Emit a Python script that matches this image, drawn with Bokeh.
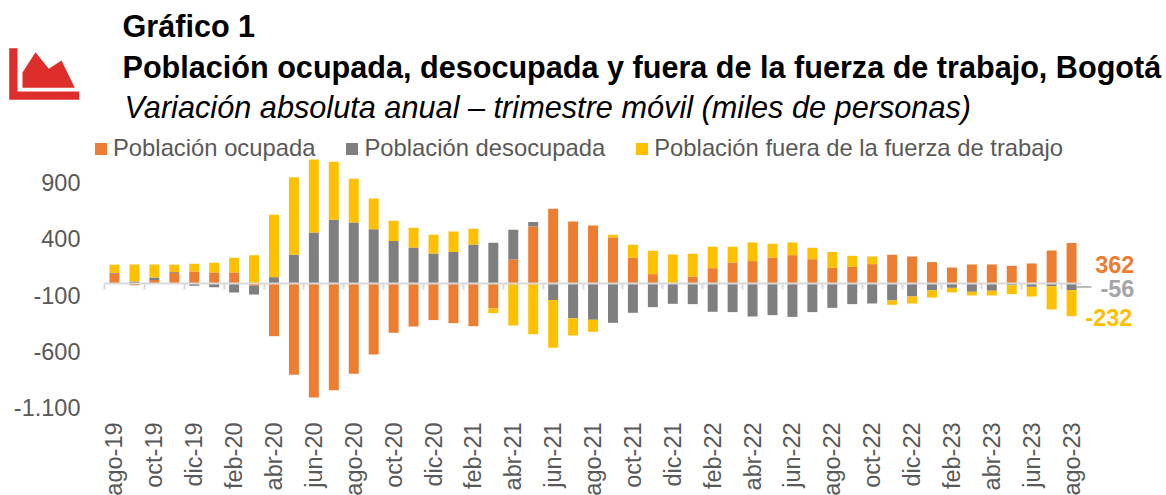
from bokeh.plotting import figure
from bokeh.embed import file_html
from bokeh.resources import INLINE
from bokeh.models import (Range1d, FixedTicker, LinearAxis, Label, Legend, LegendItem, PolyAnnotation)
import numpy as np

months = ["ago-19","sep-19","oct-19","nov-19","dic-19","ene-20","feb-20","mar-20","abr-20","may-20","jun-20","jul-20",
          "ago-20","sep-20","oct-20","nov-20","dic-20","ene-21","feb-21","mar-21","abr-21","may-21","jun-21","jul-21",
          "ago-21","sep-21","oct-21","nov-21","dic-21","ene-22","feb-22","mar-22","abr-22","may-22","jun-22","jul-22",
          "ago-22","sep-22","oct-22","nov-22","dic-22","ene-23","feb-23","mar-23","abr-23","may-23","jun-23","jul-23","ago-23"]
ocupada = [89,-12,33,98,110,101,101,-18,-466,-810,-1011,-946,-801,-629,-436,-380,-323,-350,-377,-219,217,510,667,555,519,412,231,86,6,65,139,190,202,234,255,219,142,151,175,258,243,193,145,172,172,160,181,297,362]
desocupada = [6,20,24,6,-18,-30,-77,-78,59,258,457,569,546,486,380,323,270,282,350,365,263,39,-145,-308,-320,-347,-258,-208,-178,-181,-249,-252,-291,-279,-294,-252,-214,-181,-175,-148,-113,-59,-36,-71,-62,-12,-27,-21,-56]
fuera = [74,152,115,65,68,86,130,255,555,691,649,516,388,273,180,175,166,184,139,-42,-371,-448,-424,-152,-107,24,116,208,255,202,190,139,166,122,113,101,140,98,68,-39,-62,-63,-41,-33,-42,-80,-86,-207,-232]
yticks = [900,400,-100,-600,-1100]
ylabels = {900:"900",400:"400",-100:"-100",-600:"-600",-1100:"-1.100"}
names = ["Población ocupada","Población desocupada","Población fuera de la fuerza de trabajo"]
colors = ["#ED7D31","#7F7F7F","#FFC000"]

FONT = "Liberation Sans"
W, H = 1166, 495
STEP = 19.94          # pixels per month
PPU = 0.1124          # pixels per thousand persons
X0, Y0 = 104, 283.3   # left end of the axis, zero line
p = figure(width=W, height=H, output_backend="svg", toolbar_location=None,
           x_range=Range1d(-X0 / STEP - 0.5, (W - X0) / STEP - 0.5),
           y_range=Range1d((Y0 - H) / PPU, Y0 / PPU),
           min_border_left=0, min_border_right=0, min_border_top=0, min_border_bottom=0)
p.outline_line_color = None
p.grid.visible = False

x = np.arange(len(months))
pos = np.zeros(len(months)); neg = np.zeros(len(months))
rs = []
for vals, c in zip([ocupada, desocupada, fuera], colors):
    v = np.array(vals, dtype=float)
    bottom = np.where(v >= 0, pos, neg)
    top = bottom + v
    rs.append(p.vbar(x=x, bottom=bottom, top=top, width=0.5, fill_color=c, line_color=None))
    pos = pos + np.where(v >= 0, v, 0); neg = neg + np.where(v < 0, v, 0)

# x axis labels
ax = p.xaxis[0]
ax.fixed_location = -1100
ax.ticker = FixedTicker(ticks=list(range(0, len(months), 2)))
ax.major_label_overrides = {i: months[i] for i in range(0, len(months), 2)}
ax.major_label_orientation = np.pi/2
ax.major_label_text_font = FONT
ax.major_label_text_font_size = "23.5px"
ax.major_label_text_color = "#595959"
ax.major_label_standoff = 9
ax.axis_line_color = None
ax.major_tick_line_color = None
ax.minor_tick_line_color = None

# zero axis
zero = LinearAxis(fixed_location=0, bounds=(-0.5, 48.5),
                  ticker=FixedTicker(ticks=[i - 0.5 for i in range(0, len(months) + 1, 2)]))
zero.major_label_text_font_size = "0px"
zero.major_label_text_color = None
zero.axis_line_color = "#D9D9D9"
zero.axis_line_width = 2
zero.major_tick_line_color = "#D9D9D9"
zero.major_tick_line_width = 2
zero.major_tick_in = 0
zero.major_tick_out = 6
zero.minor_tick_line_color = None
p.add_layout(zero, "below")

# y axis
ya = p.yaxis[0]
ya.fixed_location = -0.5
ya.ticker = FixedTicker(ticks=yticks)
ya.major_label_overrides = ylabels
ya.major_label_text_font = FONT
ya.major_label_text_font_size = "23.5px"
ya.major_label_text_color = "#595959"
ya.major_label_standoff = 18
ya.axis_line_color = None
ya.major_tick_line_color = None
ya.minor_tick_line_color = None

# leader of last value
p.segment(x0=[len(months) - 0.75], x1=[len(months)], y0=[desocupada[-1] / 2], y1=[desocupada[-1] / 2],
          line_color="#A5A5A5", line_width=1.5)

# end labels
for txt, yv, col, xv in [(str(ocupada[-1]), 172, colors[0], 51.15),
                         (str(desocupada[-1]), -42, "#A5A5A5", 51.15),
                         (str(fuera[-1]), -300, colors[2], 51.05)]:
    p.add_layout(Label(x=xv, y=yv, text=txt, text_font=FONT, text_font_size="23.5px", text_font_style="bold",
                       text_color=col, text_align="right", text_baseline="middle"))

legend = Legend(items=[LegendItem(label=n, renderers=[r]) for n, r in zip(names, rs)],
                orientation="horizontal", location=(93, H - 162), background_fill_alpha=0, border_line_color=None,
                glyph_width=15, glyph_height=15, label_standoff=5, spacing=29, padding=0, margin=0,
                label_text_font=FONT, label_text_font_size="23.8px", label_text_color="#595959",
                label_height=14)
p.add_layout(legend, "center")

for txt, xp, yp, fs, st in [("Gráfico 1", 122, 25, "30.6px", "bold"),
                            ("Población ocupada, desocupada y fuera de la fuerza de trabajo, Bogotá", 122, 66, "30.6px", "bold"),
                            ("Variación absoluta anual – trimestre móvil (miles de personas)", 124, 107, "30.7px", "italic")]:
    p.add_layout(Label(x=xp, y=H - yp, x_units="screen", y_units="screen", text=txt, text_font=FONT, text_font_size=fs,
                       text_font_style=st, text_color="black", text_baseline="alphabetic"))

L = [(8.7,47.7),(17,47.7),(17,91),(78.7,91),(78.7,99.3),(8.7,99.3)]
M = [(22,87.3),(22,72),(35,51.7),(48.3,68.3),(61,60),(74.3,87.3)]
for poly in (L, M):
    p.add_layout(PolyAnnotation(xs=[a for a, _ in poly], ys=[H - b for _, b in poly], xs_units="screen", ys_units="screen",
                                fill_color="#DE2E2B", fill_alpha=1, line_color=None))

open("out.html", "w").write(file_html(p, INLINE))
